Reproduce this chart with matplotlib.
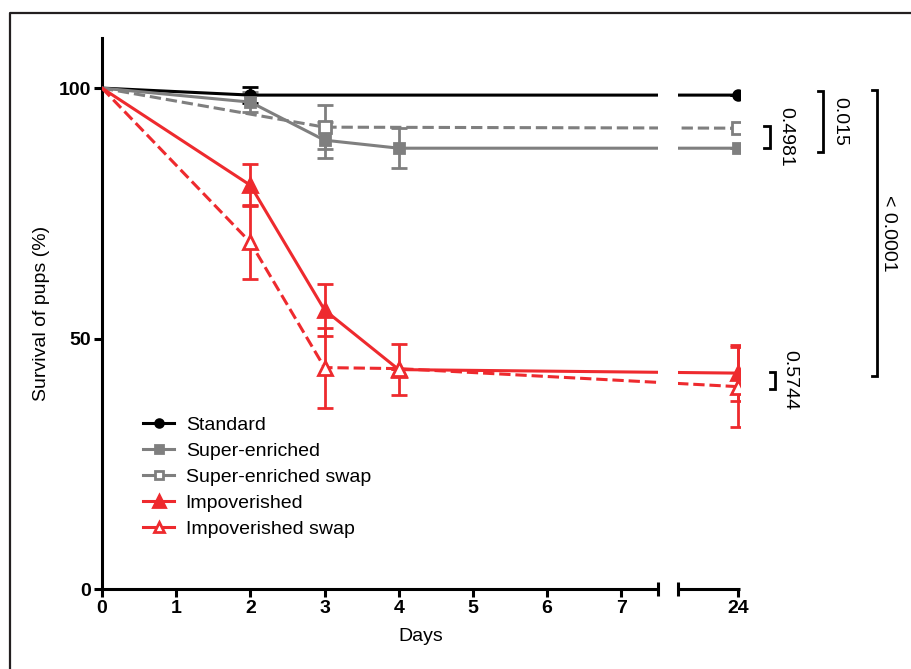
import numpy as np
import matplotlib
matplotlib.use("Agg")
import matplotlib.pyplot as plt
from matplotlib.lines import Line2D

plt.rcParams['font.family'] = ['Liberation Sans', 'DejaVu Sans']

# data
std_days = [0, 2, 24]
std_surv = [100, 98.6, 98.6]
std_err = [0, 1.6, 0]

se_days = [0, 2, 3, 4, 24]
se_surv = [100, 97.2, 89.6, 88.0, 88.0]
se_err = [0, 2.0, 3.6, 4.0, 0]

ses_days = [0, 3, 24]
ses_surv = [100, 92.2, 92.0]
ses_err = [0, 4.4, 0]

imp_days = [0, 2, 3, 4, 24]
imp_surv = [100, 80.6, 55.7, 43.8, 43.1]
imp_err = [0, 4.2, 5.2, 5.1, 5.6]

imps_days = [0, 2, 3, 4, 24]
imps_surv = [100, 69.2, 44.2, 44.0, 40.4]
imps_err = [0, 7.4, 8.0, 0, 8.0]

x_ticks = [0, 1, 2, 3, 4, 5, 6, 7, 24]
y_ticks = [0, 50, 100]

# p-values: (text, y_low, y_high)
pvals = [("0.4981", 88.0, 92.4), ("0.015", 87.2, 99.4),
         ("< 0.0001", 42.5, 99.6), ("0.5744", 40.0, 43.3)]

RED = '#EE2A2E'
GRAY = '#7F7F7F'

# broken x axis: 0..7.5, gap, 23.2..24
B0, B1, GAP = 7.5, 23.2, 0.27

def fwd(x):
    x = np.asarray(x, float)
    return np.where(x <= B0, x,
                    np.where(x >= B1, x - B1 + B0 + GAP,
                             B0 + GAP * (x - B0) / (B1 - B0)))

def inv(u):
    u = np.asarray(u, float)
    return np.where(u <= B0, u,
                    np.where(u >= B0 + GAP, u - B0 - GAP + B1,
                             B0 + (u - B0) * (B1 - B0) / GAP))

fig = plt.figure(figsize=(9.11, 6.69), dpi=100)
ax = fig.add_axes([102/911, 1-589/669, 638/911, 551/669])
ax.set_xscale('function', functions=(fwd, inv))

series = [
    (std_days, std_surv, std_err, 'black', '-', 'o', 'black', 'Standard', 7),
    (se_days, se_surv, se_err, GRAY, '-', 's', GRAY, 'Super-enriched', 6.5),
    (ses_days, ses_surv, ses_err, GRAY, '--', 's', 'white', 'Super-enriched swap', 8),
    (imp_days, imp_surv, imp_err, RED, '-', '^', RED, 'Impoverished', 10),
    (imps_days, imps_surv, imps_err, RED, '--', '^', 'white', 'Impoverished swap', 9.5),
]

handles = []
for d, s, e, c, ls, m, fc, lab, ms in series:
    ax.errorbar(d, s, yerr=e, fmt='none', ecolor=c, elinewidth=2,
                capsize=5.7, capthick=2, zorder=2)
    ax.plot(d, s, color=c, ls=ls, lw=2.2, marker=m, ms=ms, mfc=fc,
            mec=c, mew=2, markevery=list(range(1, len(d))), zorder=3)
    handles.append(Line2D([], [], color=c, ls='-', lw=2.2, marker=m,
                          ms=ms * 0.8, mfc=fc, mec=c, mew=2, label=lab))

# white gap for the axis break
ax.axvspan(B0, B1, color='white', zorder=4, lw=0)

ax.set_xlim(0, 24.03)
ax.set_ylim(0, 110)
ax.set_xticks(x_ticks)
ax.set_xticklabels([str(t) for t in x_ticks])
ax.set_yticks(y_ticks)
ax.set_yticklabels([str(t) for t in y_ticks])
for lbl in ax.get_xticklabels() + ax.get_yticklabels():
    lbl.set_fontweight('bold')
    lbl.set_fontsize(14)
ax.tick_params(axis='both', width=2.2, length=6, direction='out', pad=2)

for side in ['top', 'right', 'bottom']:
    ax.spines[side].set_visible(False)
ax.spines['left'].set_linewidth(2.2)
ax.spines['left'].set_bounds(0, 110)

# bottom axis drawn in two pieces
xt = ax.get_xaxis_transform()
kw = dict(color='black', lw=2.2, transform=xt, clip_on=False, zorder=5,
          solid_capstyle='butt')
ax.plot([0, B0], [0, 0], **kw)
ax.plot([B1, 24.03], [0, 0], **kw)
ax.plot([B0, B0], [-0.012, 0.012], **kw)
ax.plot([B1, B1], [-0.012, 0.012], **kw)

ax.set_xlabel('Days', fontsize=14, labelpad=8)
ax.set_ylabel('Survival of pups (%)', fontsize=14, labelpad=6)

leg = ax.legend(handles=handles, loc='upper left', bbox_to_anchor=(0.052, 0.327),
                frameon=False, fontsize=14, handlelength=1.6,
                labelspacing=0.43, handletextpad=0.6, borderaxespad=0)

# significance brackets
br = [(24.43, 24.64), (25.15, 25.37), (25.88, 26.03), (24.5, 24.7)]
for (txt, lo, hi), (bx, tx) in zip(pvals, br):
    w = 0.07
    ax.plot([bx - w, bx, bx, bx - w], [lo, lo, hi, hi], color='black',
            lw=2, clip_on=False, solid_joinstyle='miter')
    ax.text(tx, (lo + hi) / 2, txt, rotation=-90, ha='center', va='center',
            fontsize=14, clip_on=False)

# outer frame (left and top edges visible)
fig.add_artist(Line2D([10/911, 10/911, 1], [0, 1-13/669, 1-13/669],
                      color='#231F20', lw=1.6, transform=fig.transFigure))

fig.savefig('out.png', dpi=100)
